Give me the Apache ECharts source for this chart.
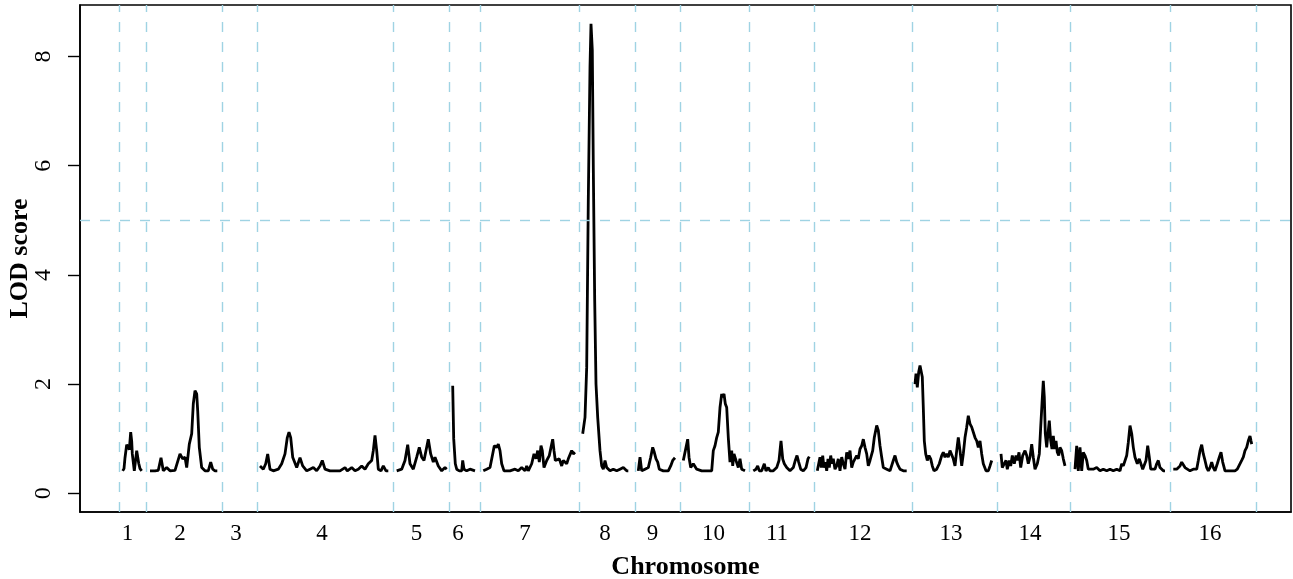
<!DOCTYPE html>
<html><head><meta charset="utf-8">
<script src="https://cdn.jsdelivr.net/npm/echarts@6/dist/echarts.min.js"></script>
<style>html,body{margin:0;padding:0;background:#fff}#c{width:1293px;height:579px}</style>
</head><body><div id="c"></div>
<script>
// Chromosome names, boundaries and label positions (cumulative genome position units)
const chromNames = ['1','2','3','4','5','6','7','8','9','10','11','12','13','14','15','16'];
const chromBounds = [39, 66.7, 142.3, 177, 313.3, 369.3, 400, 499.3, 555, 600.7, 669.3, 734.3, 832.3, 917.3, 990, 1090, 1176.7];
const labelPos = [47.5, 100, 156, 242, 336.5, 378, 445, 525, 572.5, 633.5, 697, 780, 871, 950, 1039, 1130];
const yTicks = [0, 2, 4, 6, 8];
const threshold = 5;

// LOD profiles: [position, LOD]
const chr1 = [[42.7,0.41],[44,0.45],[45,0.65],[46.7,0.89],[48,0.85],[49.3,0.80],[50.7,1.12],[51.7,0.95],[52.3,0.72],[54.3,0.41],[56.7,0.78],[58.7,0.55],[60,0.45],[61.7,0.41]];
const chr2 = [[70,0.41],[75,0.41],[78.3,0.42],[81,0.65],[83.3,0.41],[86.7,0.47],[90,0.41],[95,0.42],[100,0.72],[102.7,0.63],[105,0.66],[106.7,0.47],[109.3,0.90],[111.7,1.09],[113.3,1.64],[115,1.88],[116.7,1.82],[117.7,1.51],[119.3,0.84],[121.7,0.47],[125,0.41],[128.3,0.41],[130.7,0.57],[132.7,0.44],[135,0.41],[137.3,0.41]];
const chr3 = [];
const chr4 = [[180,0.50],[183.3,0.44],[185.7,0.54],[187.7,0.72],[190,0.44],[193.3,0.41],[198.3,0.44],[201.7,0.54],[205,0.72],[207.3,1.02],[209,1.12],[210.7,1.02],[212.7,0.66],[216.7,0.47],[220,0.65],[222.7,0.50],[226.7,0.41],[230,0.44],[233.3,0.47],[236.7,0.41],[240,0.50],[242.3,0.60],[245,0.44],[250,0.41],[260,0.41],[265,0.47],[267.3,0.41],[271.7,0.47],[275,0.41],[278.3,0.44],[281.7,0.50],[285,0.44],[288.3,0.54],[291.7,0.60],[293.3,0.78],[295,1.06],[296.7,0.78],[298.3,0.44],[301,0.41],[303.3,0.50],[306,0.41],[308.3,0.41]];
const chr5 = [[316.7,0.41],[321.7,0.44],[325,0.60],[327.7,0.89],[330,0.54],[333.3,0.44],[336.7,0.66],[339.3,0.84],[341.7,0.66],[344,0.60],[348.3,0.99],[350.7,0.72],[353.3,0.57],[355,0.66],[358.3,0.50],[361.7,0.41],[365,0.47],[366.7,0.44]];
const chr6 = [[372.7,1.97],[373.7,1.0],[375.3,0.54],[376.7,0.44],[379.3,0.41],[381.7,0.41],[382.7,0.60],[384,0.44],[386.7,0.41],[390,0.44],[395,0.41]];
const chr7 = [[403.3,0.41],[406.7,0.44],[410,0.47],[412.7,0.72],[414.3,0.87],[416.7,0.84],[418.3,0.90],[420,0.78],[421.7,0.54],[424,0.41],[430,0.41],[435,0.44],[438.3,0.41],[441.7,0.47],[445,0.41],[446.7,0.50],[448.3,0.41],[451.7,0.54],[454,0.72],[456,0.63],[457.7,0.78],[459.3,0.57],[461,0.87],[462.3,0.78],[464,0.47],[466.7,0.60],[469.3,0.69],[471,0.84],[472.7,0.99],[474,0.78],[475.3,0.60],[477.3,0.57],[479.3,0.63],[481.7,0.50],[483.3,0.60],[485,0.57],[486.7,0.54],[488.3,0.63],[490,0.66],[491.7,0.78],[493.3,0.72],[495,0.75]];
const chr8 = [[502.7,1.09],[504,1.06],[505,1.39],[506.7,2.31],[508.3,5.37],[510,7.81],[511,8.60],[512.3,8.12],[513.3,5.98],[514.7,3.53],[516,2.00],[517.7,1.39],[520,0.78],[521.7,0.50],[523.3,0.44],[525,0.60],[526.7,0.47],[530,0.41],[533.3,0.44],[536.7,0.41],[540,0.44],[543.3,0.47],[545,0.50],[546.7,0.41],[548.3,0.41]];
const chr9 = [[558.3,0.41],[560,0.66],[561.7,0.41],[565,0.44],[568.3,0.47],[570.7,0.66],[572.7,0.84],[574.3,0.75],[576,0.63],[577.7,0.57],[579.3,0.44],[583.3,0.41],[588.3,0.41],[590.7,0.50],[592.7,0.60],[595,0.65]];
const chr10 = [[603.3,0.60],[605,0.57],[606.7,0.90],[607.7,0.99],[609,0.66],[610.7,0.47],[613.3,0.54],[616.7,0.44],[621.7,0.41],[626.7,0.41],[631.7,0.41],[633.3,0.78],[635,0.87],[636.7,1.02],[638.3,1.12],[640,1.57],[641.7,1.82],[642.7,1.76],[644,1.82],[645.3,1.64],[646.7,1.57],[648.3,1.02],[650,0.57],[651.7,0.78],[652.7,0.50],[654,0.72],[656,0.60],[658.3,0.47],[660,0.63],[661.7,0.44],[663.3,0.47],[665,0.41]];
const chr11 = [[673.3,0.41],[676,0.44],[677.7,0.50],[679.3,0.41],[681.7,0.41],[684.3,0.54],[686,0.41],[688.3,0.47],[690,0.41],[693.3,0.41],[696.7,0.47],[699,0.60],[701,0.96],[702.7,0.63],[704.3,0.54],[706.7,0.47],[710,0.41],[713.3,0.47],[715.3,0.60],[717,0.69],[718.7,0.57],[720.7,0.44],[723.3,0.41],[726,0.47],[728,0.63],[729.3,0.67]];
const chr12 = [[737.3,0.41],[738.7,0.54],[740,0.66],[741.3,0.47],[742.7,0.69],[744,0.47],[745.3,0.57],[746.7,0.41],[748,0.63],[749.3,0.47],[750.7,0.69],[752,0.54],[753.3,0.63],[755,0.44],[756.7,0.50],[758.3,0.63],[760,0.41],[761.7,0.66],[763.3,0.54],[765,0.44],[766.7,0.75],[768.3,0.63],[770,0.78],[771.7,0.47],[773.3,0.57],[775,0.54],[776.7,0.69],[778.3,0.63],[780,0.81],[781.7,0.87],[783.3,0.99],[785,0.84],[786.7,0.72],[788.3,0.50],[790,0.60],[792.7,0.78],[794.3,1.02],[796.7,1.24],[798.3,1.15],[800,0.87],[801.7,0.66],[803.3,0.47],[806.7,0.44],[810,0.41],[813.3,0.60],[815,0.69],[816.7,0.57],[818.3,0.50],[820,0.44],[823.3,0.41],[826.7,0.41]];
const chr13 = [[835,2.00],[836,2.19],[837.3,1.94],[838.7,2.22],[840,2.34],[841.3,2.36],[842.3,2.13],[843.3,1.57],[844.3,0.96],[845.7,0.72],[847.3,0.60],[849,0.69],[850.7,0.63],[852.3,0.50],[854,0.41],[856.7,0.44],[859.3,0.54],[861.7,0.69],[863.3,0.75],[865,0.66],[866.7,0.72],[868.3,0.66],[870,0.78],[871.7,0.81],[873.3,0.63],[875,0.50],[876.7,0.78],[878.3,1.02],[880,0.78],[881.7,0.50],[883.3,0.72],[885,1.02],[886.7,1.21],[888.3,1.42],[890,1.27],[891.7,1.21],[893.3,1.21],[895,1.02],[896.7,0.96],[898.3,0.84],[900,0.96],[901.7,0.72],[903.3,0.54],[906,0.41],[908.3,0.41],[910,0.50],[911.7,0.60]];
const chr14 = [[921,0.72],[922.3,0.47],[924,0.44],[926,0.60],[927.3,0.44],[929.3,0.60],[930.7,0.50],[932.3,0.69],[934.3,0.54],[936,0.69],[937.3,0.60],[939,0.75],[940.7,0.47],[942.7,0.69],[945,0.78],[946.7,0.69],[948.3,0.54],[950,0.66],[951.7,0.90],[953.3,0.66],[955,0.44],[957.3,0.54],[959.3,0.72],[960.7,1.21],[962,1.64],[963.3,2.06],[964.3,1.76],[965.3,1.09],[966.7,0.84],[968,1.09],[969.3,1.33],[970.7,0.96],[972,0.81],[973.3,1.05],[974.7,0.81],[976,0.96],[977.3,0.75],[978.7,0.69],[980,0.84],[981.7,0.78],[983.3,0.63],[985,0.50]];
const chr15 = [[995,0.44],[996.7,0.87],[998.3,0.41],[1000,0.84],[1001.7,0.41],[1003.3,0.75],[1005,0.69],[1006.7,0.60],[1008.3,0.44],[1010,0.47],[1013.3,0.44],[1016.7,0.47],[1020,0.41],[1023.3,0.44],[1026.7,0.41],[1030,0.44],[1033.3,0.41],[1036.7,0.44],[1040,0.41],[1041.7,0.54],[1043.3,0.50],[1046.7,0.69],[1048.3,0.93],[1050,1.24],[1051.7,1.09],[1053.3,0.84],[1055,0.66],[1057.3,0.54],[1059.3,0.63],[1061,0.66],[1062.7,0.44],[1064.3,0.41],[1066,0.60],[1067.7,0.87],[1069.3,0.66],[1070.7,0.44],[1072.7,0.41],[1075,0.44],[1076.7,0.54],[1078.3,0.60],[1080,0.47],[1081.7,0.44],[1083.3,0.41],[1085,0.41]];
const chr16 = [[1093.3,0.44],[1096.7,0.44],[1100,0.50],[1101.7,0.57],[1103.3,0.54],[1105,0.47],[1106.7,0.44],[1110,0.41],[1113.3,0.44],[1116.7,0.44],[1118.3,0.60],[1120,0.78],[1121.7,0.89],[1123.3,0.72],[1125,0.60],[1126.7,0.47],[1128.3,0.41],[1130,0.47],[1131.7,0.57],[1133.3,0.47],[1135,0.41],[1137.3,0.54],[1139.3,0.66],[1141,0.75],[1142.7,0.57],[1145,0.41],[1148.3,0.41],[1151.7,0.41],[1155,0.41],[1157.3,0.44],[1159.3,0.47],[1161.7,0.60],[1163.3,0.66],[1165,0.78],[1166.7,0.84],[1168.3,0.96],[1170,1.05],[1171,0.96],[1171.7,0.90]];

const profiles = [chr1, chr2, chr3, chr4, chr5, chr6, chr7, chr8, chr9, chr10, chr11, chr12, chr13, chr14, chr15, chr16];

const serif = '"Liberation Serif", "DejaVu Serif", serif';
const guide = { color: '#9fd3e3', type: [10, 10], width: 1.4 };

const series = profiles.map((d, i) => ({
  name: 'Chr ' + chromNames[i],
  type: 'line',
  data: d,
  showSymbol: false,
  symbol: 'none',
  lineStyle: { color: '#000', width: 2.8 },
  z: 3,
  animation: false
}));

series.push({
  type: 'line',
  data: [],
  z: 1,
  animation: false,
  markLine: {
    silent: true,
    symbol: 'none',
    label: { show: false },
    lineStyle: guide,
    data: chromBounds.map(b => ({ xAxis: b })).concat([{ yAxis: threshold }])
  }
});

const chart = echarts.init(document.getElementById('c'), null, { renderer: 'canvas' });
chart.setOption({
  animation: false,
  backgroundColor: '#fff',
  grid: { left: 80, right: 2, top: 5, bottom: 67, outerBoundsMode: 'none', containLabel: false, show: true, borderColor: '#000', borderWidth: 1.6, backgroundColor: 'transparent' },
  xAxis: {
    type: 'value', min: 0, max: 1211,
    name: 'Chromosome', nameLocation: 'middle', nameGap: 42, nameMoveOverlap: false,
    nameTextStyle: { fontFamily: serif, fontWeight: 'bold', fontSize: 26, color: '#000' },
    axisLine: { show: true, onZero: false, lineStyle: { color: '#000', width: 1.6 } },
    axisTick: { show: false },
    splitLine: { show: false },
    axisLabel: {
      customValues: labelPos,
      formatter: v => chromNames[labelPos.indexOf(v)],
      fontFamily: serif, fontSize: 23, color: '#000', margin: 10
    }
  },
  yAxis: {
    type: 'value', min: -0.344, max: 8.944,
    name: 'LOD score', nameLocation: 'middle', nameGap: 47, nameRotate: 90, nameMoveOverlap: false,
    nameTextStyle: { fontFamily: serif, fontWeight: 'bold', fontSize: 26, color: '#000' },
    axisLine: { show: true, lineStyle: { color: '#000', width: 1.6 } },
    axisTick: { show: true, customValues: yTicks, length: 12, lineStyle: { color: '#000', width: 1.4 } },
    splitLine: { show: false },
    axisLabel: {
      customValues: yTicks, rotate: 90,
      fontFamily: serif, fontSize: 24, color: '#000', margin: 24
    }
  },
  series: series
});
</script>
</body></html>
